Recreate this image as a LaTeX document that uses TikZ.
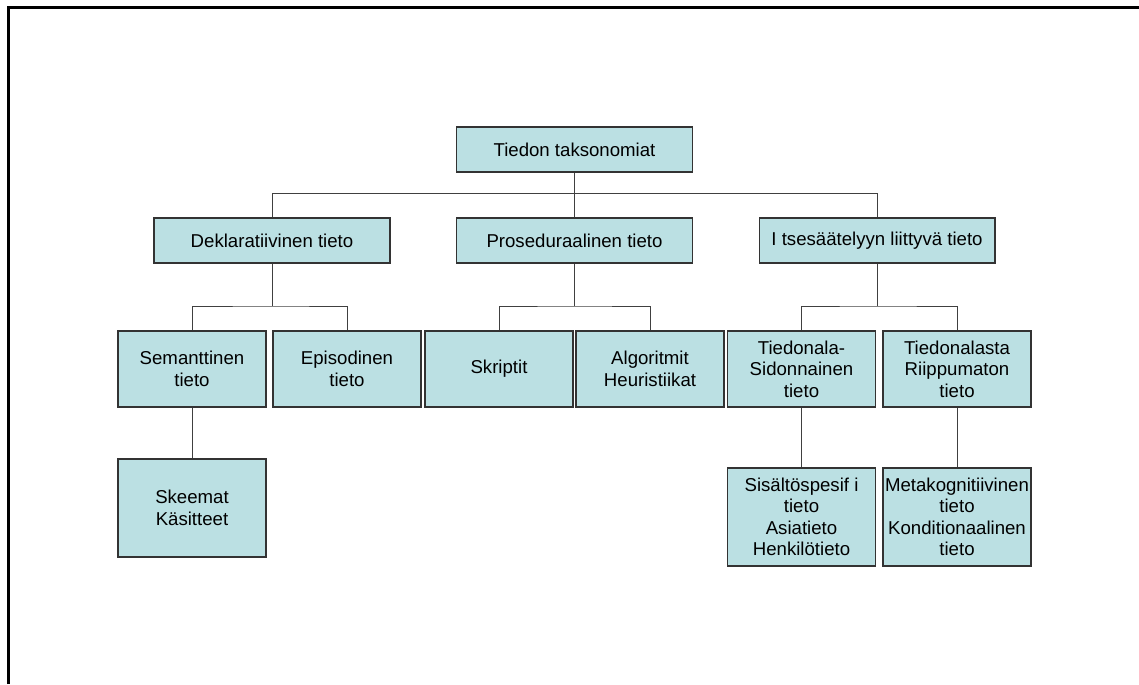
\documentclass[tikz,border=0pt]{standalone}
\usepackage{fontspec}
\setmainfont{Liberation Sans}
\usetikzlibrary{positioning, shadows}
\definecolor{boxfill}{HTML}{BBE0E3}
\tikzset{
  box/.style={draw=black!80, fill=boxfill, line width=0.6pt, align=center, inner sep=1pt,
    general shadow={fill=black!65, shadow xshift=0.5pt, shadow yshift=-0.5pt},
    font=\fontsize{10.6}{12.2}\selectfont},
  wide/.style={box, minimum width=4.72cm, minimum height=0.9cm},
  small/.style={box, minimum width=2.96cm, minimum height=1.52cm},
  tall/.style={box, minimum width=2.96cm, minimum height=1.96cm},
  link/.style={draw=black!75, line width=0.5pt}
}
\begin{document}
\begin{tikzpicture}[x=0.02cm, y=-0.02cm]
\useasboundingbox (0,0) rectangle (1139,684);
\draw[line width=1.7pt] (8.5,684) -- (8.5,7.5) -- (1139,7.5);
    \node[wide] (top) at (574.5,149.5) {Tiedon taksonomiat};
    \node[wide] (dek) at (272,240.5) {Deklaratiivinen tieto};
    \node[wide] (pro) at (574.5,240.5) {Proseduraalinen tieto};
    \node[wide] (its) at (877,240.5) {I tsesäätelyyn liittyvä tieto};
    \node[small] (sem) at (192,369) {Semanttinen\\tieto};
    \node[small] (epi) at (347,369) {Episodinen\\tieto};
    \node[small] (skr) at (499,369) {Skriptit};
    \node[small] (alg) at (650,369) {Algoritmit\\Heuristiikat};
    \node[small] (sid) at (801.5,369) {Tiedonala-\\Sidonnainen\\tieto};
    \node[small] (rii) at (957,369) {Tiedonalasta\\Riippumaton\\tieto};
    \node[tall] (ske) at (192,508) {Skeemat\\Käsitteet};
    \node[tall] (sis) at (801.5,517) {Sisältöspesif i\\tieto\\Asiatieto\\Henkilötieto};
    \node[tall] (met) at (957,517) {Metakognitiivinen\\tieto\\Konditionaalinen\\tieto};
\coordinate (b0) at (574.5,193.5);
\coordinate (b1) at (272,306);
\coordinate (b2) at (574.5,306);
\coordinate (b3) at (877,306);
\draw[link] (top) -- (b0);
\draw[link] (dek) |- (b0) -| (its);
\draw[link] (pro) -- (b0);
\draw[link] (dek) -- (b1);
\draw[link] (sem) |- (b1) -| (epi);
\draw[link] (pro) -- (b2);
\draw[link] (skr) |- (b2) -| (alg);
\draw[link] (its) -- (b3);
\draw[link] (sid) |- (b3) -| (rii);
\draw[link] (sem) -- (ske);
\draw[link] (sid) -- (sis);
\draw[link] (rii) -- (met);
    \end{tikzpicture}
\end{document}
